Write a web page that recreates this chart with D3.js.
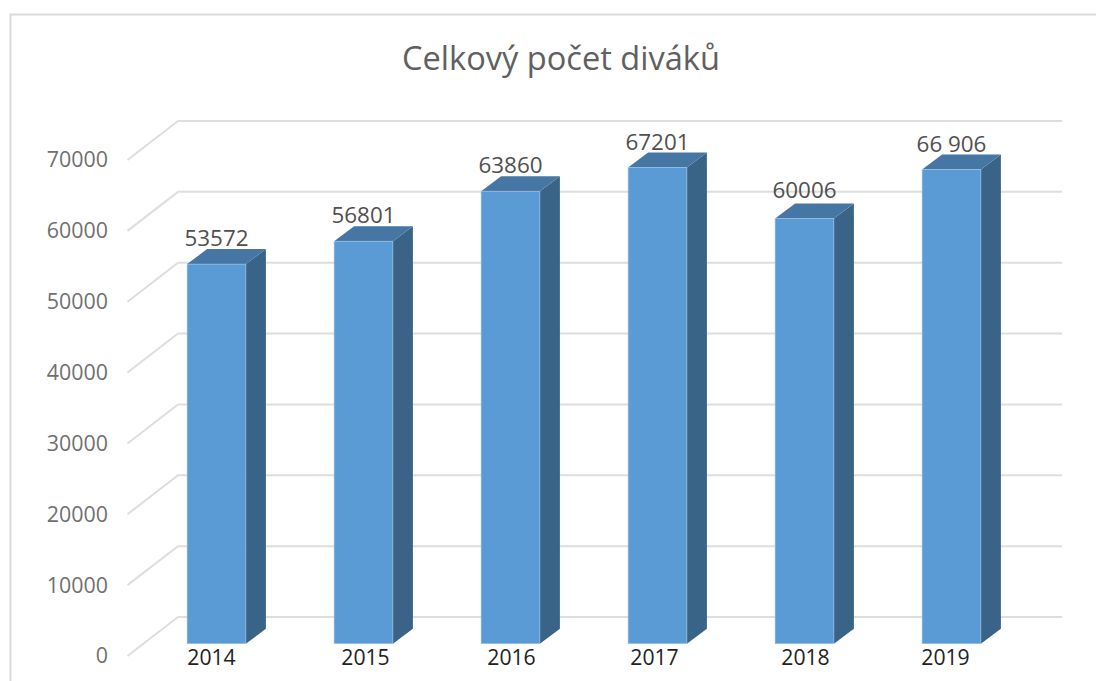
<!DOCTYPE html>
<html>
<head>
<meta charset="utf-8">
<script src="https://cdnjs.cloudflare.com/ajax/libs/d3/7.8.5/d3.min.js"></script>
<style>
  html, body { margin: 0; padding: 0; background: #fff; overflow: hidden; }
  text { font-family: "Open Sans", "Noto Sans", sans-serif; }
</style>
</head>
<body>
<div id="viz"></div>
<script>
var years = ['2014', '2015', '2016', '2017', '2018', '2019'];
var viewers = [53572, 56801, 63860, 67201, 60006, 66906];
var valueLabels = ['53572', '56801', '63860', '67201', '60006', '66 906'];
var axisTicks = [0, 10000, 20000, 30000, 40000, 50000, 60000, 70000];
var yearLabelShift = [-5, 2, 1, -3, 1, -6];
var valueLabelShift = [0, 0, 0, 0, -3, 0];

var width = 1096, height = 681;
var depthX = 20, depthY = -15;

var svg = d3.select('#viz')
    .append('svg')
    .attr('width', width)
    .attr('height', height);

// chart frame, runs off the right and bottom of the screenshot
svg.append('rect')
    .attr('x', 10.5)
    .attr('y', 14.5)
    .attr('width', 1200)
    .attr('height', 800)
    .attr('fill', '#fff')
    .attr('stroke', '#d9d9d9')
    .attr('stroke-width', 2);

svg.append('text')
    .text('Celkový počet diváků')
    .attr('x', 561)
    .attr('y', 70)
    .attr('text-anchor', 'middle')
    .attr('font-size', 32.6)
    .attr('fill', '#606060');

var x = d3.scaleBand()
    .domain(years)
    .range([143, 1025])
    .paddingInner(0.6)
    .paddingOuter(0.3);

var y = d3.scaleLinear()
    .domain([0, 70000])
    .range([643.7, 147.7]);

// gridlines: floor/wall edge goes back from the front left corner, then along the wall
var wallOffset = 12.3;
var frontX = 127.5, backX = 178, rightX = 1062;
var grid = svg.append('g');
grid.selectAll('path')
    .data(axisTicks).enter()
    .append('path')
    .attr('d', function(d) {
        var front = y(d) + wallOffset;
        var back = y(d) - 26.7;
        return 'M' + frontX + ',' + front + 'L' + backX + ',' + back + 'L' + rightX + ',' + back;
    })
    .attr('fill', 'none')
    .attr('stroke', '#dedede')
    .attr('stroke-width', 2);

var yAxis = svg.append('g')
    .attr('transform', 'translate(108,' + wallOffset + ')')
    .call(d3.axisLeft(y).tickValues(axisTicks).tickSize(0).tickPadding(0).tickFormat(d3.format('d')));
yAxis.select('.domain').remove();
yAxis.selectAll('text')
    .attr('font-size', 21.4)
    .attr('font-family', '"Open Sans", "Noto Sans", sans-serif')
    .attr('fill', '#707070');

var bars = svg.append('g').selectAll('g')
    .data(years).enter()
    .append('g');

// side face
bars.append('path')
    .attr('d', function(d, i) {
        var r = x(d) + x.bandwidth(), t = y(viewers[i]), b = y(0);
        return 'M' + r + ',' + t + 'l' + depthX + ',' + depthY + 'L' + (r + depthX) + ',' + (b + depthY) + 'L' + r + ',' + b + 'Z';
    })
    .attr('fill', '#396487');

// top face
bars.append('path')
    .attr('d', function(d, i) {
        var l = x(d), r = l + x.bandwidth(), t = y(viewers[i]);
        return 'M' + l + ',' + t + 'l' + depthX + ',' + depthY + 'L' + (r + depthX) + ',' + (t + depthY) + 'L' + r + ',' + t + 'Z';
    })
    .attr('fill', '#4676a3');

// front face
bars.append('rect')
    .attr('x', function(d) { return x(d); })
    .attr('y', function(d, i) { return y(viewers[i]); })
    .attr('width', x.bandwidth())
    .attr('height', function(d, i) { return y(0) - y(viewers[i]); })
    .attr('fill', '#5b9bd5')
    .attr('stroke', '#9cc4e8')
    .attr('stroke-width', 0.6);

bars.append('text')
    .text(function(d, i) { return valueLabels[i]; })
    .attr('x', function(d) { return x(d) + x.bandwidth() / 2; })
    .attr('y', function(d, i) { return y(viewers[i]) - 18 + valueLabelShift[i]; })
    .attr('text-anchor', 'middle')
    .attr('font-size', 22.4)
    .attr('fill', '#505050');

svg.append('g').selectAll('text')
    .data(years).enter()
    .append('text')
    .text(function(d) { return d; })
    .attr('x', function(d, i) { return x(d) + x.bandwidth() / 2 + yearLabelShift[i]; })
    .attr('y', 665)
    .attr('text-anchor', 'middle')
    .attr('font-size', 21.2)
    .attr('fill', '#222');
</script>
</body>
</html>
